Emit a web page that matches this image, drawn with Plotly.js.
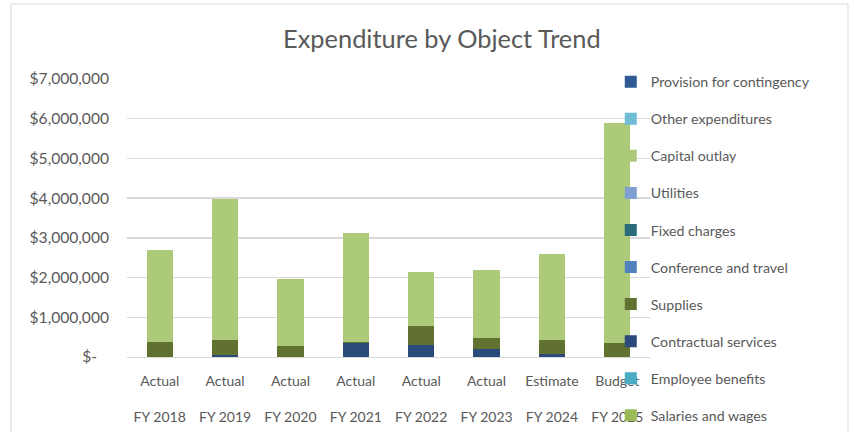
<!DOCTYPE html>
<html>
<head>
<meta charset="utf-8">
<script src="https://cdn.plot.ly/plotly-3.0.1.min.js"></script>
<style>
  html, body { margin: 0; padding: 0; background: #ffffff; }
  #chart { width: 854px; height: 432px; }
</style>
</head>
<body>
<div id="chart"></div>
<script>
// Categories (two-line tick labels)
const periodTypes = ["Actual", "Actual", "Actual", "Actual", "Actual", "Actual", "Estimate", "Budget"];
const fiscalYears = ["FY 2018", "FY 2019", "FY 2020", "FY 2021", "FY 2022", "FY 2023", "FY 2024", "FY 2025"];

// Series (bottom of stack first)
const seriesNames = [
  "Salaries and wages",
  "Employee benefits",
  "Contractual services",
  "Supplies",
  "Conference and travel",
  "Fixed charges",
  "Utilities",
  "Capital outlay",
  "Other expenditures",
  "Provision for contingency"
];
const salariesAndWages     = [0, 0, 0, 0, 0, 0, 0, 0];
const employeeBenefits     = [0, 0, 0, 0, 0, 0, 0, 0];
const contractualServices  = [0, 40000, 0, 360000, 300000, 200000, 80000, 0];
const supplies             = [385000, 390000, 270000, 10000, 490000, 290000, 350000, 345000];
const conferenceAndTravel  = [0, 0, 0, 0, 0, 0, 0, 0];
const fixedCharges         = [0, 0, 0, 0, 0, 0, 0, 0];
const utilities            = [0, 0, 0, 0, 0, 0, 0, 0];
const capitalOutlay        = [2305000, 3540000, 1690000, 2750000, 1360000, 1690000, 2170000, 5535000];
const otherExpenditures    = [0, 0, 0, 0, 0, 0, 0, 0];
const provisionContingency = [0, 0, 0, 0, 0, 0, 0, 0];

const yTickValues = [0, 1000000, 2000000, 3000000, 4000000, 5000000, 6000000, 7000000];
const yTickLabels = ["$-\u00a0\u00a0\u00a0", "$1,000,000", "$2,000,000", "$3,000,000", "$4,000,000", "$5,000,000", "$6,000,000", "$7,000,000"];

const seriesValues = [
  salariesAndWages, employeeBenefits, contractualServices, supplies, conferenceAndTravel,
  fixedCharges, utilities, capitalOutlay, otherExpenditures, provisionContingency
];
const seriesColors = [
  "#9bbb59", "#4bacc6", "#2a4a7c", "#617230", "#4f81bd",
  "#2a6b7c", "#7f9fd3", "#adc97a", "#70bdd5", "#2f5a96"
];

const categories = periodTypes.map((p, i) => p + "<br> <br>" + fiscalYears[i]);

const FONT = "Lato, 'Open Sans', sans-serif";
const TXT = "#595959";

const data = seriesNames.map((name, i) => ({
  type: "bar",
  name: name,
  x: categories,
  y: seriesValues[i],
  legendgroup: "g" + i,
  legendrank: 1000 - i * 10,
  marker: { color: seriesColors[i], line: { width: 0 } },
  hoverinfo: "x+y+name"
}));

const layout = {
  width: 854,
  height: 432,
  barmode: "stack",
  bargap: 0.6,
  paper_bgcolor: "#ffffff",
  plot_bgcolor: "#ffffff",
  margin: { l: 127, r: 204, t: 79, b: 75 },
  font: { family: FONT, color: TXT, size: 14 },
  title: {
    text: "Expenditure by Object Trend",
    font: { family: FONT, size: 25.4, color: TXT },
    x: 0.602, xanchor: "center", xref: "paper",
    y: 0.91, yanchor: "middle"
  },
  xaxis: {
    type: "category",
    showgrid: false,
    showline: true,
    linecolor: "#d9d9d9",
    linewidth: 1,
    ticks: "",
    ticklabelstandoff: 11,
    tickfont: { family: FONT, size: 14, color: TXT },
    fixedrange: true
  },
  yaxis: {
    range: [0, 7000000],
    tickvals: yTickValues,
    ticktext: yTickLabels,
    showgrid: true,
    gridcolor: "#d9d9d9",
    gridwidth: 1.3,
    zeroline: false,
    showline: false,
    ticks: "",
    ticklabelstandoff: 17,
    tickfont: { family: FONT, size: 15.6, color: TXT },
    fixedrange: true
  },
  showlegend: true,
  legend: {
    traceorder: "grouped",
    tracegroupgap: 15.6,
    x: 0.925, xanchor: "left",
    y: 1.036, yanchor: "top",
    maxheight: 1000,
    bgcolor: "rgba(0,0,0,0)",
    font: { family: FONT, size: 14.2, color: TXT },
    itemwidth: 30
  },
  shapes: [
    {
      type: "rect", xref: "paper", yref: "paper",
      x0: -0.2218, x1: 1.3786, y0: -0.35, y1: 1.27,
      line: { color: "#d9d9d9", width: 1 },
      fillcolor: "rgba(0,0,0,0)", layer: "below"
    }
  ]
};

Plotly.newPlot("chart", data, layout, { displayModeBar: false, staticPlot: true });
</script>
</body>
</html>
